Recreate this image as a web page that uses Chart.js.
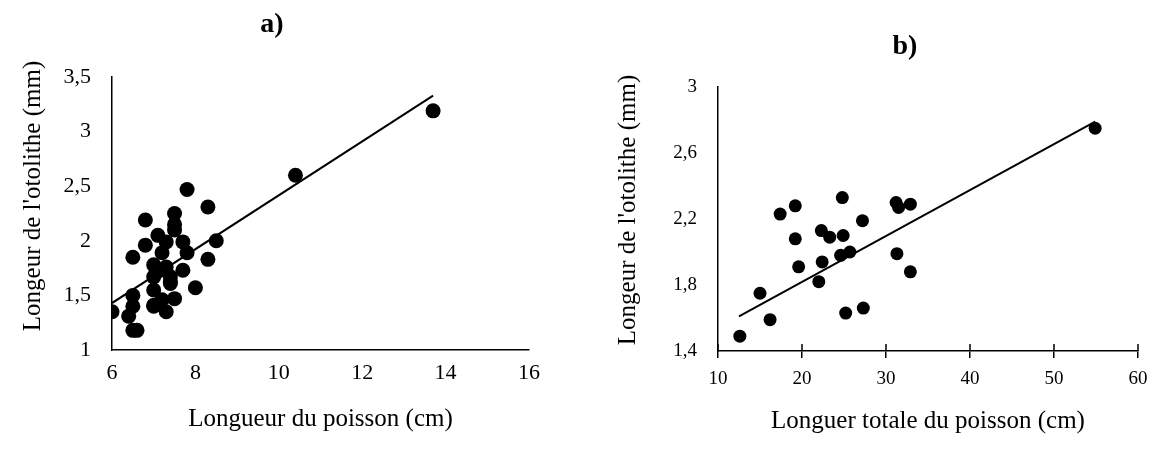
<!DOCTYPE html>
<html>
<head>
<meta charset="utf-8">
<script src="https://cdn.jsdelivr.net/npm/chart.js@4"></script>
<style>
  body { margin: 0; background: #fff; }
  .panel { position: absolute; top: 0; height: 456px; }
  #panelA { left: 0; width: 580px; }
  #panelB { left: 580px; width: 579px; }
</style>
</head>
<body>
<div class="panel" id="panelA"><canvas id="chartA"></canvas></div>
<div class="panel" id="panelB"><canvas id="chartB"></canvas></div>
<script>
// Panel a) : fish length (cm) vs otolith length (mm)
const fishLengthA = [6.0, 10.4, 13.7, 7.8, 8.3, 6.8, 7.5, 7.5, 7.5, 7.1, 7.3, 7.7, 8.5, 6.8, 7.2, 7.8, 6.5, 8.3, 7.0,
  7.3, 7.7, 7.0, 7.4, 7.4, 7.0, 8.0, 6.5, 7.5, 6.5, 7.0, 7.2, 7.3, 6.4, 6.5, 6.6, 7.4, 7.0, 7.1];
const otolithA = [1.35, 2.6, 3.19, 2.47, 2.31, 2.19, 2.25, 2.15, 2.10, 2.05, 1.99, 1.99, 2.0, 1.96, 1.89, 1.89, 1.85, 1.83, 1.78,
  1.76, 1.73, 1.67, 1.67, 1.61, 1.55, 1.57, 1.50, 1.47, 1.40, 1.40, 1.46, 1.35, 1.31, 1.18, 1.18, 1.63, 1.41, 1.72];
const trendXA = [6.0, 13.7];
const trendYA = [1.43, 3.33];

// Panel b) : total fish length (cm) vs otolith length (mm)
const fishLengthB = [12.6, 15.0, 16.2, 17.4, 19.2, 19.2, 19.6, 22.3, 23.3, 22.4, 22.0, 24.8, 24.9, 24.6, 25.7, 25.2,
  27.2, 27.3, 31.2, 31.5, 32.9, 31.3, 32.9, 54.9];
const otolithB = [1.49, 1.75, 1.59, 2.23, 2.28, 2.08, 1.91, 2.13, 2.09, 1.94, 1.82, 2.33, 2.10, 1.98, 2.00, 1.63,
  2.19, 1.66, 2.30, 2.27, 2.29, 1.99, 1.88, 2.75];
const trendXB = [12.5, 54.9];
const trendYB = [1.61, 2.79];

const FONT = '"Liberation Serif", "Times New Roman", serif';
const Y_TITLE = "Longeur de l'otolithe (mm)";

function toPoints(xs, ys) {
  return xs.map((x, i) => ({ x: x, y: ys[i] }));
}

function commaLabel(v) {
  return String(Number(v.toFixed(2))).replace('.', ',');
}

// panel letter ("a)" / "b)") and the rotated y axis title,
// drawn at fixed spots like the Excel original
const panelText = {
  id: 'panelText',
  afterDraw(chart, args, opts) {
    const ctx = chart.ctx;
    ctx.save();
    ctx.fillStyle = '#000';
    ctx.textAlign = 'center';
    ctx.textBaseline = 'middle';
    ctx.font = 'bold 28px ' + FONT;
    ctx.fillText(opts.letter, opts.letterX, opts.letterY);
    ctx.translate(opts.yTitleX, opts.yTitleY);
    ctx.rotate(-Math.PI / 2);
    ctx.font = '25px ' + FONT;
    ctx.fillText(Y_TITLE, 0, 0);
    ctx.restore();
  }
};

// extends x tick marks upward so they cross the axis line
const innerTicks = {
  id: 'innerTicks',
  afterDatasetsDraw(chart, args, opts) {
    if (!opts.enabled) return;
    const s = chart.scales.x;
    const ctx = chart.ctx;
    ctx.save();
    ctx.strokeStyle = '#000';
    ctx.lineWidth = 1.5;
    s.ticks.forEach((t, i) => {
      const px = s.getPixelForTick(i);
      ctx.beginPath();
      ctx.moveTo(px, s.top);
      ctx.lineTo(px, s.top - 7);
      ctx.stroke();
    });
    ctx.restore();
  }
};

function makeChart(id, cfg) {
  return new Chart(document.getElementById(id), {
    type: 'scatter',
    data: {
      datasets: [{
        type: 'line',
        data: toPoints(cfg.trendX, cfg.trendY),
        borderColor: '#000',
        borderWidth: 2,
        pointRadius: 0,
        fill: false
      }, {
        data: toPoints(cfg.xs, cfg.ys),
        backgroundColor: '#000',
        borderWidth: 0,
        pointRadius: cfg.radius
      }]
    },
    options: {
      responsive: true,
      maintainAspectRatio: false,
      animation: false,
      layout: { padding: cfg.padding },
      plugins: {
        legend: { display: false },
        tooltip: { enabled: false },
        panelText: cfg.text,
        innerTicks: { enabled: cfg.xTicks }
      },
      scales: {
        x: {
          type: 'linear',
          min: cfg.xMin, max: cfg.xMax,
          afterFit(scale) { scale.height = cfg.xHeight; },
          grid: {
            display: cfg.xTicks,
            drawOnChartArea: false,
            drawTicks: cfg.xTicks,
            tickLength: 7,
            color: '#000',
            lineWidth: 1.5
          },
          border: { display: true, color: '#000', width: 1.5 },
          ticks: {
            stepSize: cfg.xStep,
            color: '#000',
            padding: cfg.xLabelPad,
            font: { family: FONT, size: cfg.tickSize },
            maxRotation: 0
          },
          title: {
            display: true,
            text: cfg.xTitle,
            color: '#000',
            font: { family: FONT, size: 25 },
            padding: { top: 0, bottom: cfg.xTitlePad }
          }
        },
        y: {
          min: cfg.yMin, max: cfg.yMax,
          afterFit(scale) { scale.width = cfg.yWidth; },
          grid: { display: false, drawTicks: false },
          border: { display: true, color: '#000', width: 1.5 },
          ticks: {
            stepSize: cfg.yStep,
            color: '#000',
            padding: 21,
            font: { family: FONT, size: cfg.tickSize },
            callback: v => commaLabel(v)
          }
        }
      }
    },
    plugins: [panelText, innerTicks]
  });
}

makeChart('chartA', {
  xs: fishLengthA, ys: otolithA, trendX: trendXA, trendY: trendYA,
  radius: 7.5,
  padding: { top: 77, right: 51, left: 0, bottom: 0 },
  text: { letter: 'a)', letterX: 272, letterY: 25, yTitleX: 33, yTitleY: 196 },
  xTicks: false,
  xMin: 6, xMax: 16, xStep: 2,
  yMin: 1, yMax: 3.5, yStep: 0.5,
  xHeight: 106, yWidth: 112,
  xLabelPad: 10, tickSize: 22,
  xTitlePad: 22,
  xTitle: 'Longueur du poisson (cm)'
});

makeChart('chartB', {
  xs: fishLengthB, ys: otolithB, trendX: trendXB, trendY: trendYB,
  radius: 6.5,
  padding: { top: 87, right: 21, left: 0, bottom: 0 },
  text: { letter: 'b)', letterX: 325, letterY: 47, yTitleX: 48, yTitleY: 210 },
  xTicks: true,
  xMin: 10, xMax: 60, xStep: 10,
  yMin: 1.4, yMax: 3, yStep: 0.4,
  xHeight: 105, yWidth: 138,
  xLabelPad: 10, tickSize: 19,
  xTitlePad: 20,
  xTitle: 'Longuer totale du poisson (cm)'
});
</script>
</body>
</html>
